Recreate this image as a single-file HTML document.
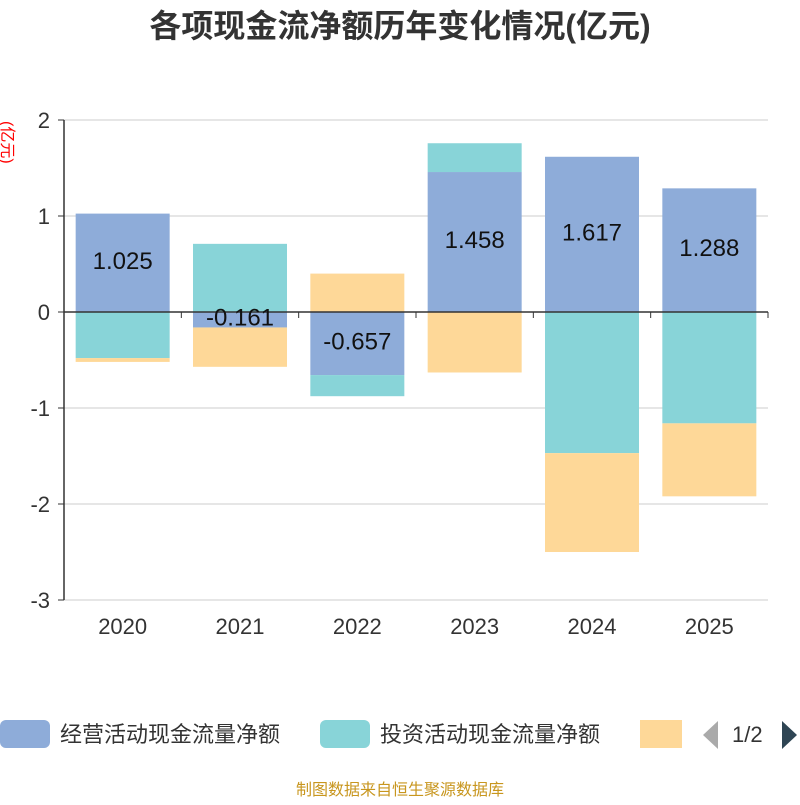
<!DOCTYPE html>
<html><head><meta charset="utf-8"><style>
body{margin:0;background:#fff;width:800px;height:800px;overflow:hidden;font-family:"Liberation Sans","Noto Sans CJK SC",sans-serif}
svg text{font-family:"Liberation Sans","Noto Sans CJK SC",sans-serif}
</style></head><body>
<svg id="chart" width="800" height="800">
<text x="400" y="37" text-anchor="middle" font-size="32" font-weight="bold" fill="#333">各项现金流净额历年变化情况(亿元)</text>
<text transform="translate(2,121) rotate(90)" font-size="16" fill="#ff0000">(亿元)</text>
<g id="grid"></g><g id="bars"></g><g id="axes"></g><g id="labels"></g>
<g>
<rect x="0" y="720" width="50" height="28" rx="6" fill="#8eacd9"/>
<text x="60" y="742" font-size="22" fill="#333">经营活动现金流量净额</text>
<rect x="320" y="720" width="50" height="28" rx="6" fill="#88d4d8"/>
<text x="380" y="742" font-size="22" fill="#333">投资活动现金流量净额</text>
<rect x="640" y="720" width="42" height="28" fill="#fed898"/>
<polygon points="718,721 718,749 703,735" fill="#aaa"/>
<text x="732" y="742" font-size="22" fill="#333">1/2</text>
<polygon points="782,721 782,749 797,735" fill="#2f4554"/>
</g>
<text x="400" y="795" text-anchor="middle" font-size="16" fill="#c8961e">制图数据来自恒生聚源数据库</text>
</svg>
<script>
const categories=["2020","2021","2022","2023","2024","2025"];
const operating=[1.025,-0.161,-0.657,1.458,1.617,1.288];
const investing=[-0.48,0.71,-0.22,0.30,-1.47,-1.16];
const financing=[-0.04,-0.41,0.40,-0.63,-1.03,-0.76];
const yTicks=[2,1,0,-1,-2,-3];
const NS="http://www.w3.org/2000/svg";
const x0=64,x1=768,yTop=120,yBot=600,vMax=2,vMin=-3;
function y(v){return yTop+(vMax-v)*(yBot-yTop)/(vMax-vMin);}
const band=(x1-x0)/categories.length;
function xc(i){return x0+band*(i+0.5);}
function mk(tag,attrs,parent){const e=document.createElementNS(NS,tag);for(const k in attrs)e.setAttribute(k,attrs[k]);document.getElementById(parent).appendChild(e);return e;}
yTicks.forEach(t=>{
 if(t!==0){const l=mk('line',{x1:x0,x2:x1,y1:y(t),y2:y(t),stroke:'#ccc','stroke-width':1},'grid');
 
 }
 const tk=mk('line',{x1:x0-6,x2:x0,y1:y(t),y2:y(t),stroke:'#333'},'axes');
 
 
 const tx=mk('text',{x:x0-14,y:y(t)+8,'text-anchor':'end','font-size':22,fill:'#333'},'axes');
 tx.textContent=t;
 
 
});
const series=[[operating,'#8eacd9','operating'],[investing,'#88d4d8','investing'],[financing,'#fed898','financing']];
const bw=94;
categories.forEach((c,i)=>{
 let pos=0,neg=0;
 series.forEach(([arr,col,nm])=>{
  const v=arr[i];let a,b;
  if(v>=0){a=pos;b=pos+v;pos=b;}else{a=neg;b=neg+v;neg=b;}
  const r=mk('rect',{x:xc(i)-bw/2,y:Math.min(y(a),y(b)),width:bw,height:Math.abs(y(a)-y(b)),fill:col},'bars');
  
  
 });
 const v=operating[i];
 const lt=mk('text',{x:xc(i),y:y(v/2)+6,'text-anchor':'middle','font-size':24,fill:'#111'},'labels');
 lt.textContent=v.toFixed(3);
 
 
 const xt=mk('text',{x:xc(i),y:634,'text-anchor':'middle','font-size':22,fill:'#333'},'axes');
 xt.textContent=c;
 
 
});
for(let i=0;i<=categories.length;i++){
 const t=mk('line',{x1:x0+band*i,x2:x0+band*i,y1:y(0),y2:y(0)+6,stroke:'#333'},'axes');
 
 
}
const ya=mk('line',{x1:x0,x2:x0,y1:yTop,y2:yBot,stroke:'#333','stroke-width':1.5},'axes');


const xa=mk('line',{x1:x0,x2:x1,y1:y(0),y2:y(0),stroke:'#333','stroke-width':1.5},'axes');


const bl=mk('line',{x1:x0,x2:x1,y1:yBot,y2:yBot,stroke:'#ccc'},'grid');


</script>
</body></html>
